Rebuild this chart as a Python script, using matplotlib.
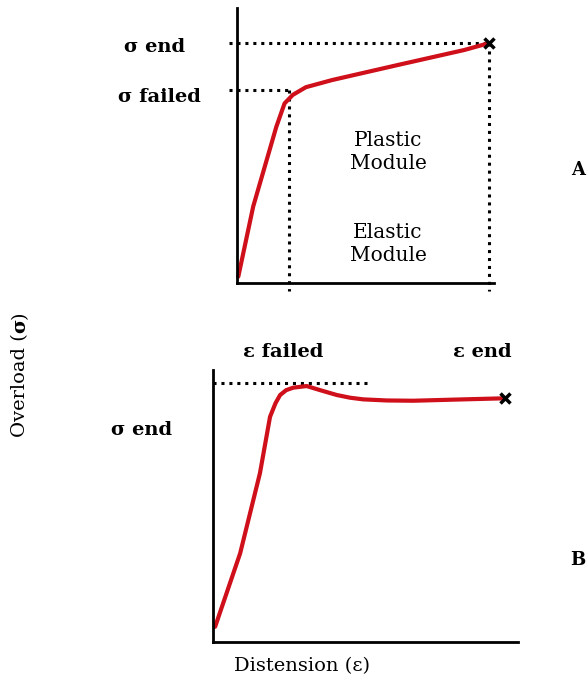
import matplotlib
matplotlib.use("Agg")
from matplotlib import pyplot as plt
from matplotlib.text import Annotation

W, H = 587, 683

# panel A: stress-strain curve with plastic region (data units 0-100)
a_x = [0.5, 6.3, 15.3, 18.5, 21.7, 26.8, 37.0, 62.7, 88.3, 98.0]
a_y = [2.3, 27.8, 56.8, 65.3, 68.4, 71.2, 73.8, 79.3, 84.7, 87.2]
a_fail = (20.4, 70.2)
a_end = (98.0, 87.2)

# panel B: curve with peak then plateau
b_x = [0.7, 8.9, 15.4, 18.7, 20.5, 22.0, 24.0, 26.3, 30.7, 35.1, 40.6, 45.0, 49.3, 57.0, 65.7, 82.1, 95.7]
b_y = [5.6, 32.6, 62.1, 82.8, 87.8, 90.8, 92.6, 93.5, 94.1, 92.6, 90.8, 89.8, 89.2, 88.8, 88.7, 89.2, 89.6]
b_peak = 95.2
b_dot_end = 50.8

RED = "#cf0f1a"
FONT = "DejaVu Serif"


def px_axes(left, top, right, bottom):
    return fig.add_axes([left / W, 1 - bottom / H, (right - left) / W, (bottom - top) / H])


def ftext(x, y, s, **kw):
    kw.setdefault("ha", "center")
    kw.setdefault("va", "center")
    return fig.text(x / W, 1 - y / H, s, family=FONT, **kw)


fig = plt.figure(figsize=(W / 100, H / 100), dpi=100)

# create axes for both panels
axA = px_axes(237, 8, 494, 283)
axB = px_axes(213, 370, 518, 642)

for ax in (axA, axB):
    ax.set_xlim(0, 100)
    ax.set_ylim(0, 100)
    ax.spines["top"].set_visible(False)
    ax.spines["right"].set_visible(False)
    ax.spines["left"].set_linewidth(2)
    ax.spines["bottom"].set_linewidth(2)
    ax.set_xticks([])
    ax.set_yticks([])
    ax.patch.set_alpha(0)

# panel A
dot = dict(color="black", linestyle=(0, (1, 1.6)), linewidth=2.2, clip_on=False)
axA.plot([-3, a_fail[0]], [a_fail[1], a_fail[1]], **dot)
axA.plot([a_fail[0], a_fail[0]], [a_fail[1], -3], **dot)
axA.plot([-3, a_end[0]], [a_end[1], a_end[1]], **dot)
axA.plot([a_end[0], a_end[0]], [a_end[1], -3], **dot)
axA.plot(a_x, a_y, color=RED, linewidth=3, solid_capstyle="round", solid_joinstyle="round", clip_on=False)
axA.plot([a_end[0]], [a_end[1]], marker="x", color="black", markersize=7, markeredgewidth=2.5, clip_on=False)

# panel B
axB.plot([0, b_dot_end], [b_peak, b_peak], **dot)
axB.plot(b_x, b_y, color=RED, linewidth=3, solid_capstyle="round", solid_joinstyle="round", clip_on=False)
axB.plot([b_x[-1]], [b_y[-1]], marker="x", color="black", markersize=7, markeredgewidth=2.5, clip_on=False)

# labels
ftext(155, 47, "σ end", fontsize=14, fontweight="bold")
ftext(159, 97, "σ failed", fontsize=14, fontweight="bold")
ftext(388, 152, "Plastic\nModule", fontsize=14.5, linespacing=1.25, multialignment="center")
ftext(388, 244, "Elastic\nModule", fontsize=14.5, linespacing=1.25, multialignment="center")
ftext(578, 170, "A", fontsize=13, fontweight="bold")
ftext(283, 352, "ε failed", fontsize=14, fontweight="bold")
ftext(482, 352, "ε end", fontsize=14, fontweight="bold")
ftext(142, 430, "σ end", fontsize=14, fontweight="bold")
ftext(578, 560, "B", fontsize=13, fontweight="bold")
ftext(302, 666, "Distension (ε)", fontsize=14)

# y label with bold sigma, chained pieces
t1 = ftext(20, 437, "Overload (", rotation=90, fontsize=14, va="bottom")
t2 = fig.add_artist(Annotation("σ", xy=(0.5, 1), xycoords=t1, va="bottom", ha="center",
                               rotation=90, family=FONT, fontsize=14, fontweight="bold"))
fig.add_artist(Annotation(")", xy=(0.5, 1), xycoords=t2, va="bottom", ha="center",
                          rotation=90, family=FONT, fontsize=14))

plt.savefig("out.png", dpi=100)
